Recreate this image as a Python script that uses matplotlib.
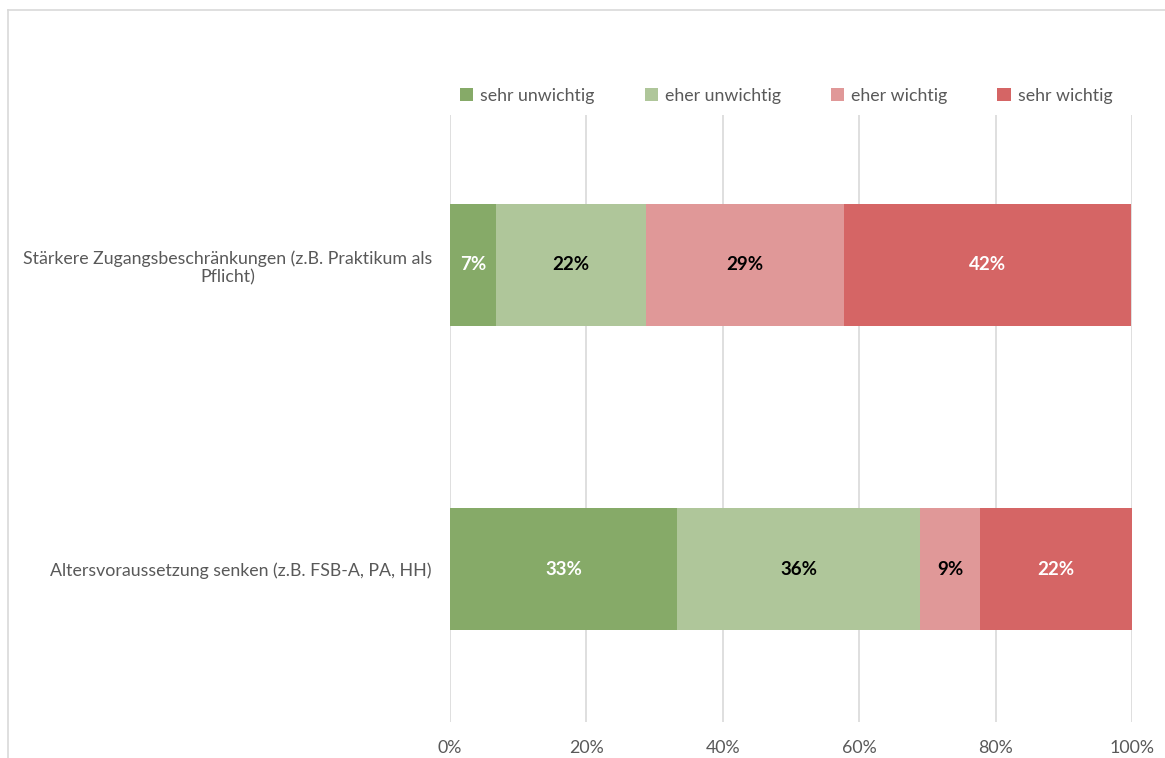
import matplotlib
matplotlib.use("Agg")
import matplotlib.pyplot as plt
from matplotlib.lines import Line2D
from matplotlib.patches import Patch

plt.rcParams['font.family'] = ['Lato', 'DejaVu Sans']

categories = ["Altersvoraussetzung senken (z.B. FSB-A, PA, HH)",
              "Stärkere Zugangsbeschränkungen (z.B. Praktikum als\nPflicht)"]
series = ["sehr unwichtig", "eher unwichtig", "eher wichtig", "sehr wichtig"]
values = {
    "sehr unwichtig": [33.3, 6.7],
    "eher unwichtig": [35.6, 22.1],
    "eher wichtig":   [8.8, 28.9],
    "sehr wichtig":   [22.3, 42.2],
}
colors = ["#86AA68", "#AFC69A", "#E09898", "#D56565"]
label_colors = ["white", "black", "black", "white"]
xticks = [0, 20, 40, 60, 80, 100]
xticklabels = ["0%", "20%", "40%", "60%", "80%", "100%"]

W, H = 1165, 758
fig = plt.figure(figsize=(W / 100, H / 100), dpi=100)
ax = fig.add_axes([450 / W, 1 - 722 / H, (1132 - 450) / W, (722 - 115) / H])

ypos = list(range(len(categories)))
left = [0.0] * len(categories)
for s, c, lc in zip(series, colors, label_colors):
    vals = values[s]
    ax.barh(ypos, vals, left=left, height=0.4, color=c, label=s, zorder=3)
    for y, v, l in zip(ypos, vals, left):
        ax.text(l + v / 2, y, f"{round(v):d}%", ha='center', va='center',
                color=lc, fontsize=13.5, fontweight='bold', zorder=4)
    left = [a + b for a, b in zip(left, vals)]

ax.set_xlim(0, 100)
ax.set_ylim(-0.503, 1.493)
ax.set_xticks(xticks)
ax.set_xticklabels(xticklabels)
ax.set_yticks(ypos)
ax.set_yticklabels(categories, multialignment='center')
ax.tick_params(axis='both', length=0, colors='#595959', labelsize=12.8)
ax.tick_params(axis='x', pad=13)
ax.tick_params(axis='y', pad=13)
for sp in ax.spines.values():
    sp.set_visible(False)
ax.grid(axis='x', color='#D9D9D9', linewidth=1.2, zorder=0)
ax.set_axisbelow(True)

handles = [Patch(facecolor=c, edgecolor='none') for c in colors]
leg = ax.legend(handles, series, loc='center', bbox_to_anchor=(0.493, 1.031),
                ncol=4, frameon=False, fontsize=12.8, handlelength=0.75,
                handleheight=0.75, handletextpad=0.4, columnspacing=2.8,
                borderpad=0, borderaxespad=0)
for t in leg.get_texts():
    t.set_color('#595959')

# outer frame (top and left edges)
fig.add_artist(Line2D([8 / W, 1.0], [1 - 10 / H, 1 - 10 / H], transform=fig.transFigure,
                      color='#D9D9D9', linewidth=1.2))
fig.add_artist(Line2D([8 / W, 8 / W], [0, 1 - 10 / H], transform=fig.transFigure,
                      color='#D9D9D9', linewidth=1.2))

fig.savefig("out.png", dpi=100, facecolor='white')
